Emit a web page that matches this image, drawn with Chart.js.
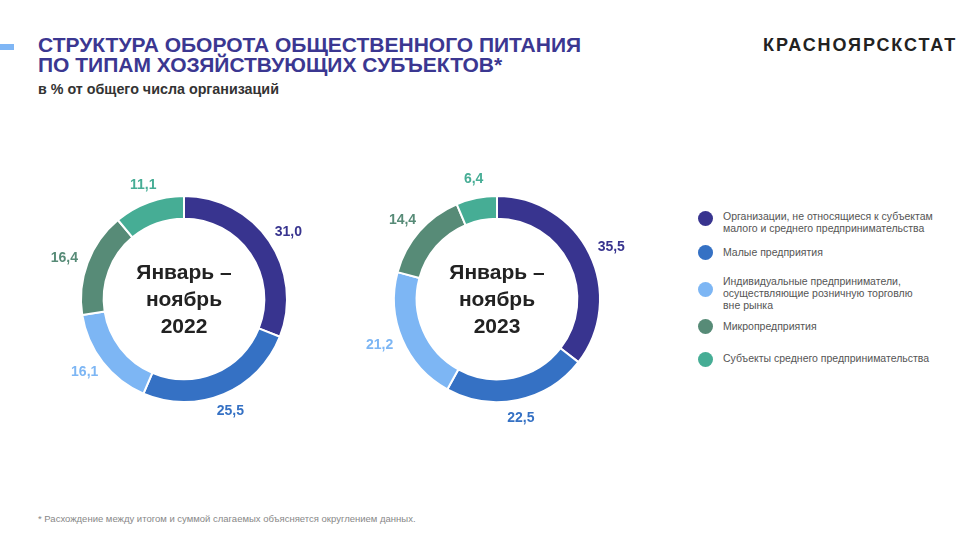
<!DOCTYPE html>
<html lang="ru">
<head>
<meta charset="utf-8">
<script src="https://cdn.jsdelivr.net/npm/chart.js@4"></script>
<style>
  body { margin: 0; width: 960px; height: 540px; background: #fff; font-family: "Liberation Sans", Arial, sans-serif; position: relative; overflow: hidden; }
  .bar { position: absolute; left: 0; top: 44px; width: 14px; height: 6px; background: #7fb6f5; }
  .title { position: absolute; left: 38px; top: 35px; color: #3b3791; font-weight: bold; font-size: 21px; line-height: 20px; }
  .sub { position: absolute; left: 38px; top: 81px; color: #333; font-weight: bold; font-size: 14.3px; }
  .logo { position: absolute; left: 763px; top: 35px; color: #222; font-weight: bold; font-size: 18px; letter-spacing: 1.9px; }
  .foot { position: absolute; left: 38px; top: 513px; color: #888; font-size: 9.5px; }
  .chart { position: absolute; width: 300px; height: 280px; }
  .legend { position: absolute; left: 698px; top: 0; font-size: 10.5px; color: #555; }
  .dot { position: absolute; left: 0; width: 15px; height: 15px; border-radius: 50%; }
  .txt { position: absolute; left: 25px; white-space: nowrap; line-height: 12.3px; }
</style>
</head>
<body>
<div class="bar"></div>
<div class="title">СТРУКТУРА ОБОРОТА ОБЩЕСТВЕННОГО ПИТАНИЯ<br>ПО ТИПАМ ХОЗЯЙСТВУЮЩИХ СУБЪЕКТОВ*</div>
<div class="sub">в % от общего числа организаций</div>
<div class="logo">КРАСНОЯРСКСТАТ</div>

<div class="chart" style="left:34px; top:159px;"><canvas id="c2022"></canvas></div>
<div class="chart" style="left:347px; top:159px;"><canvas id="c2023"></canvas></div>

<div class="legend" id="legend"></div>

<div class="foot">* Расхождение между итогом и суммой слагаемых объясняется округлением данных.</div>

<script>
const categories = [
  "Организации, не относящиеся к субъектам\nмалого и среднего предпринимательства",
  "Малые предприятия",
  "Индивидуальные предприниматели,\nосуществляющие розничную торговлю\nвне рынка",
  "Микропредприятия",
  "Субъекты среднего предпринимательства"
];
const values2022 = [31.0, 25.5, 16.1, 16.4, 11.1];
const values2023 = [35.5, 22.5, 21.2, 14.4, 6.4];
const colors = ["#38348f", "#3571c4", "#7db6f4", "#578b77", "#46ad95"];

// legend: centre of dot, centre of first text line
const dotY = [218, 252, 289, 326, 359];
const textY = [216, 252, 281, 326, 358];
const legendEl = document.getElementById("legend");
categories.forEach((name, i) => {
  const dot = document.createElement("div");
  dot.className = "dot";
  dot.style.top = (dotY[i] - 7.5) + "px";
  dot.style.background = colors[i];
  legendEl.appendChild(dot);
  const t = document.createElement("div");
  t.className = "txt";
  t.style.top = (textY[i] - 6.5) + "px";
  t.innerHTML = name.split("\n").join("<br>");
  legendEl.appendChild(t);
});

const labelsPlugin = {
  id: "outLabels",
  afterDatasetsDraw(chart) {
    const ctx = chart.ctx;
    const meta = chart.getDatasetMeta(0);
    const data = chart.data.datasets[0].data;
    ctx.save();
    ctx.font = "bold 14px 'Liberation Sans', Arial, sans-serif";
    ctx.textAlign = "center";
    ctx.textBaseline = "middle";
    meta.data.forEach((arc, i) => {
      const a = (arc.startAngle + arc.endAngle) / 2;
      const txt = data[i].toFixed(1).replace(".", ",");
      const w = ctx.measureText(txt).width;
      const r = arc.outerRadius + 12;
      const x = arc.x + Math.cos(a) * (r + w / 2 * Math.abs(Math.cos(a)));
      const y = arc.y + Math.sin(a) * (r + 7 * Math.abs(Math.sin(a)));
      ctx.fillStyle = colors[i];
      ctx.fillText(txt, x, y);
    });
    // подпись в центре
    const c = meta.data[0];
    ctx.fillStyle = "#222";
    ctx.font = "bold 21px 'Liberation Sans', Arial, sans-serif";
    const lines = chart.options.plugins.outLabels.center;
    lines.forEach((t, k) => {
      ctx.fillText(t, c.x, c.y + (k - 1) * 27 + 1);
    });
    ctx.restore();
  }
};

function makeDonut(id, values, year) {
  const cv = document.getElementById(id);
  cv.width = 300;
  cv.height = 280;
  new Chart(cv, {
    type: "doughnut",
    data: {
      labels: categories,
      datasets: [{
        data: values,
        backgroundColor: colors,
        borderColor: "#fff",
        borderWidth: 2
      }]
    },
    options: {
      responsive: false,
      animation: false,
      cutout: "78%",
      layout: { padding: { left: 46, right: 46, top: 36, bottom: 36 } },
      plugins: {
        legend: { display: false },
        tooltip: { enabled: false },
        outLabels: { center: ["Январь –", "ноябрь", year] }
      }
    },
    plugins: [labelsPlugin]
  });
}

makeDonut("c2022", values2022, "2022");
makeDonut("c2023", values2023, "2023");
</script>
</body>
</html>
